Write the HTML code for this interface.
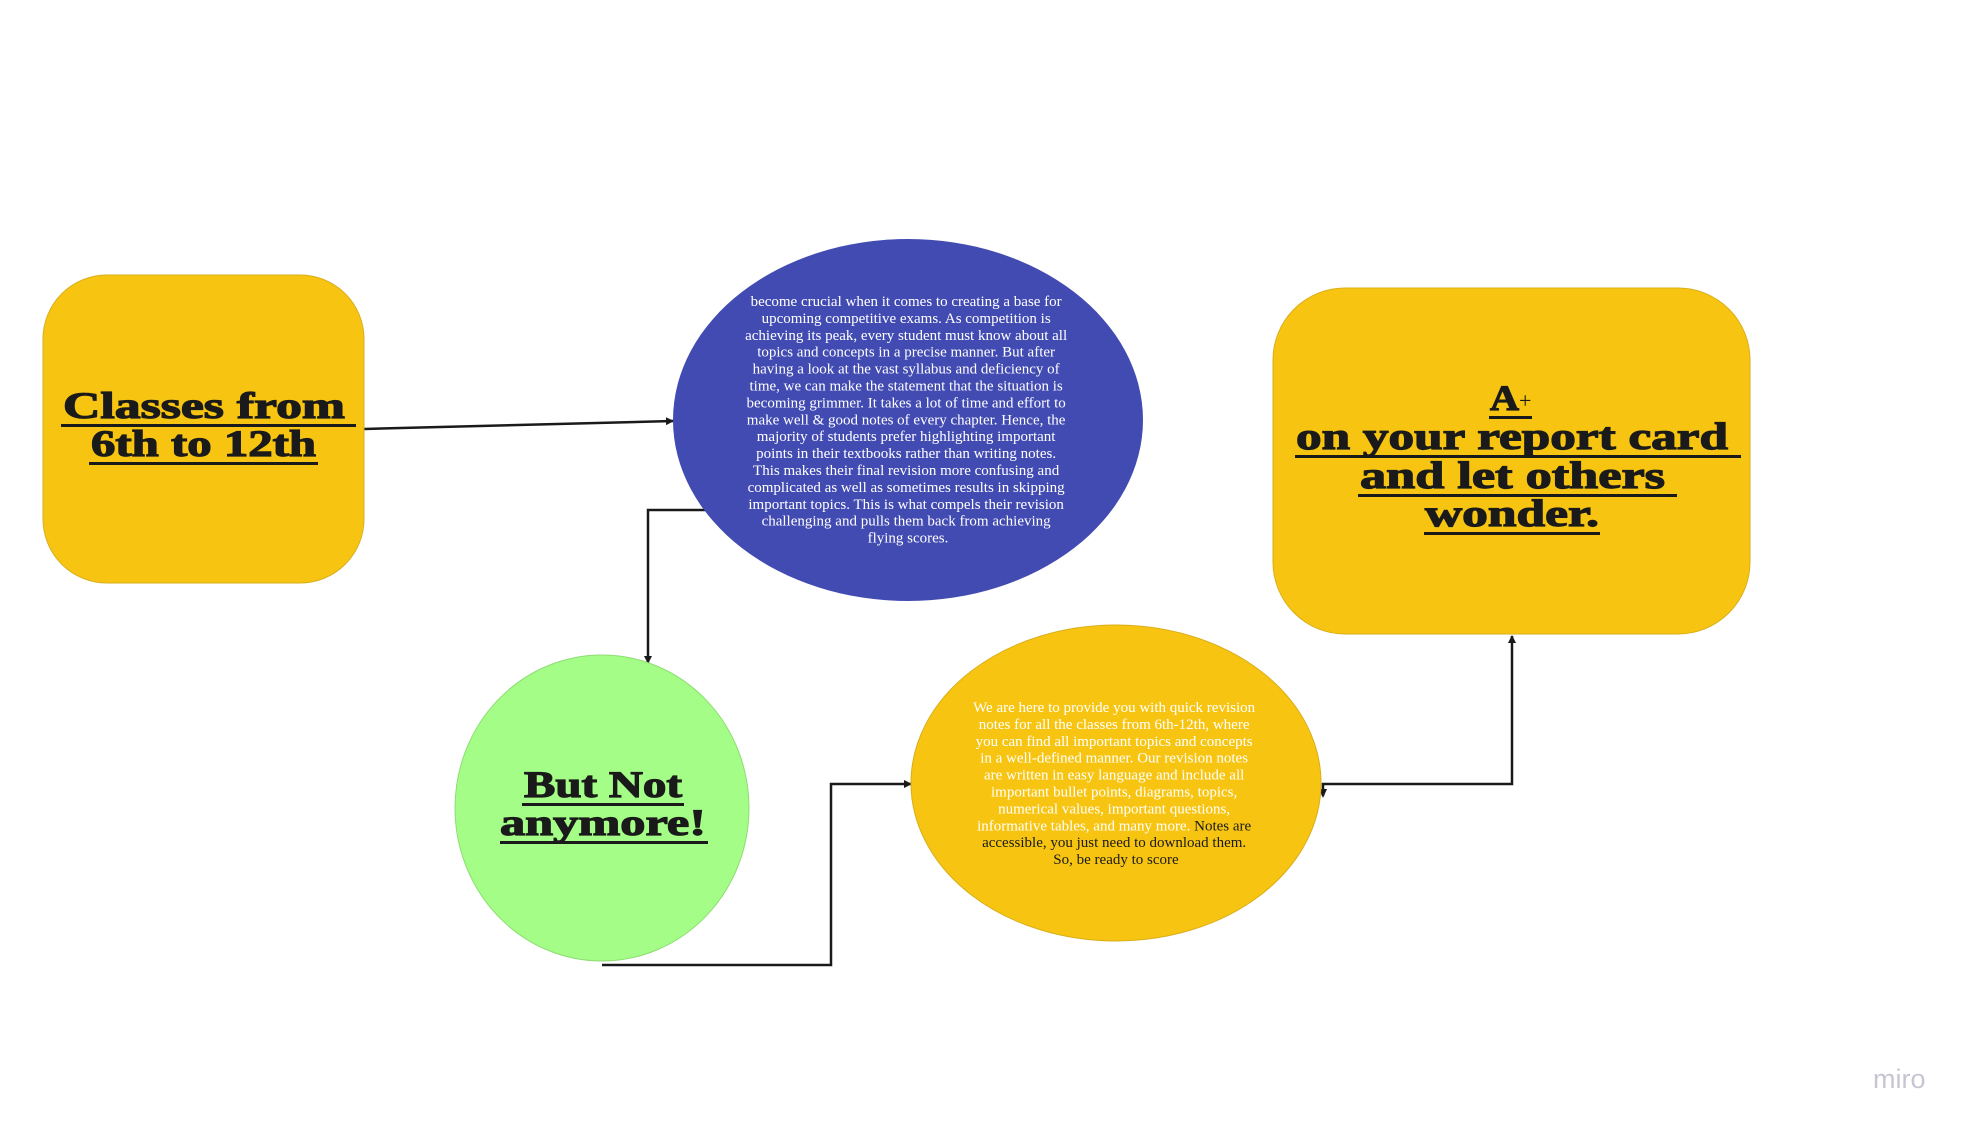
<!DOCTYPE html>
<html><head><meta charset="utf-8"><style>
html,body{margin:0;padding:0;background:#fff;width:1980px;height:1135px;overflow:hidden}
svg{display:block}
.t{font-family:"Liberation Serif",serif;font-weight:bold;fill:#1a1a1a;stroke:#1a1a1a;stroke-width:1.2px}
.b{font-family:"Liberation Serif",serif;font-size:15px;text-anchor:middle}
</style></head><body>
<svg width="1980" height="1135" viewBox="0 0 1980 1135">
<defs><marker id="ah" markerWidth="8" markerHeight="8" refX="7" refY="4" orient="auto" markerUnits="userSpaceOnUse"><path d="M0,0 L8,4 L0,8 z" fill="#1a1a1a"/></marker></defs>

<g fill="none" stroke="#1a1a1a" stroke-width="2.5">
<line x1="364" y1="429" x2="673" y2="421" marker-end="url(#ah)"/>
<polyline points="705,510 648,510 648,663" marker-end="url(#ah)"/>
<polyline points="602,965 831,965 831,784 911,784" marker-end="url(#ah)"/>
<polyline points="1323,796 1323,784 1512,784 1512,636" marker-end="url(#ah)"/>
</g>
<path d="M1319,789 L1323,798 L1327,789 z" fill="#1a1a1a"/>

<rect x="43" y="275" width="321" height="308" rx="64" fill="#f7c511" stroke="#d9ae1a" stroke-width="1"/>
<ellipse cx="908" cy="420" rx="235" ry="181" fill="#424bb2"/>
<rect x="1273" y="288" width="477" height="346" rx="72" fill="#f7c511" stroke="#d9ae1a" stroke-width="1"/>
<ellipse cx="602" cy="808" rx="147" ry="153" fill="#a3fd86" stroke="#8fdc74" stroke-width="1"/>
<ellipse cx="1116" cy="783" rx="205" ry="158" fill="#f7c511" stroke="#d9ae1a" stroke-width="1"/>

<g>
<text class="t" x="63" y="418" font-size="37" textLength="282" lengthAdjust="spacingAndGlyphs">Classes from</text>
<rect x="61" y="424" width="295" height="3" fill="#1a1a1a"/>
<text class="t" x="91" y="456" font-size="37" textLength="225" lengthAdjust="spacingAndGlyphs">6th to 12th</text>
<rect x="89" y="462" width="229" height="3" fill="#1a1a1a"/>
</g>

<g>
<text class="t" x="524" y="797" font-size="37" textLength="158" lengthAdjust="spacingAndGlyphs">But Not</text>
<rect x="522" y="803" width="162" height="3" fill="#1a1a1a"/>
<text class="t" x="500" y="835" font-size="37" textLength="206" lengthAdjust="spacingAndGlyphs">anymore!</text>
<rect x="500" y="841" width="208" height="3" fill="#1a1a1a"/>
</g>

<g>
<text class="t" x="1490" y="410" font-size="36" textLength="29" lengthAdjust="spacingAndGlyphs">A</text>
<text x="1519" y="408" font-family="Liberation Serif,serif" font-size="22" fill="#1a1a1a">+</text>
<rect x="1489" y="416" width="43" height="3" fill="#1a1a1a"/>
<text class="t" x="1296" y="449" font-size="38" textLength="432" lengthAdjust="spacingAndGlyphs">on your report card</text>
<rect x="1295" y="455" width="446" height="3" fill="#1a1a1a"/>
<text class="t" x="1360" y="488" font-size="38" textLength="305" lengthAdjust="spacingAndGlyphs">and let others</text>
<rect x="1358" y="494" width="319" height="3" fill="#1a1a1a"/>
<text class="t" x="1425" y="526" font-size="38" textLength="174" lengthAdjust="spacingAndGlyphs">wonder.</text>
<rect x="1424" y="532" width="176" height="3" fill="#1a1a1a"/>
</g>

<text class="b" fill="#fff">
<tspan x="908" y="306">become crucial when it comes to creating a base for</tspan>
<tspan x="908" dy="16.9">upcoming competitive exams. As competition is</tspan>
<tspan x="908" dy="16.9">achieving its peak, every student must know about all</tspan>
<tspan x="908" dy="16.9">topics and concepts in a precise manner. But after</tspan>
<tspan x="908" dy="16.9">having a look at the vast syllabus and deficiency of</tspan>
<tspan x="908" dy="16.9">time, we can make the statement that the situation is</tspan>
<tspan x="908" dy="16.9">becoming grimmer. It takes a lot of time and effort to</tspan>
<tspan x="908" dy="16.9">make well &amp; good notes of every chapter. Hence, the</tspan>
<tspan x="908" dy="16.9">majority of students prefer highlighting important</tspan>
<tspan x="908" dy="16.9">points in their textbooks rather than writing notes.</tspan>
<tspan x="908" dy="16.9">This makes their final revision more confusing and</tspan>
<tspan x="908" dy="16.9">complicated as well as sometimes results in skipping</tspan>
<tspan x="908" dy="16.9">important topics. This is what compels their revision</tspan>
<tspan x="908" dy="16.9">challenging and pulls them back from achieving</tspan>
<tspan x="908" dy="16.9">flying scores.</tspan>
</text>

<text class="b" fill="#fff">
<tspan x="1116" y="712">We are here to provide you with quick revision</tspan>
<tspan x="1116" dy="16.9">notes for all the classes from 6th-12th, where</tspan>
<tspan x="1116" dy="16.9">you can find all important topics and concepts</tspan>
<tspan x="1116" dy="16.9">in a well-defined manner. Our revision notes</tspan>
<tspan x="1116" dy="16.9">are written in easy language and include all</tspan>
<tspan x="1116" dy="16.9">important bullet points, diagrams, topics,</tspan>
<tspan x="1116" dy="16.9">numerical values, important questions,</tspan>
<tspan x="1116" dy="16.9">informative tables, and many more. <tspan fill="#1a1a1a">Notes are</tspan></tspan>
<tspan x="1116" dy="16.9" fill="#1a1a1a">accessible, you just need to download them.</tspan>
<tspan x="1116" dy="16.9" fill="#1a1a1a">So, be ready to score</tspan>
</text>

<text x="1873" y="1088" font-family="Liberation Sans,sans-serif" font-size="27" fill="#c6c6d2">miro</text>
</svg>
</body></html>
